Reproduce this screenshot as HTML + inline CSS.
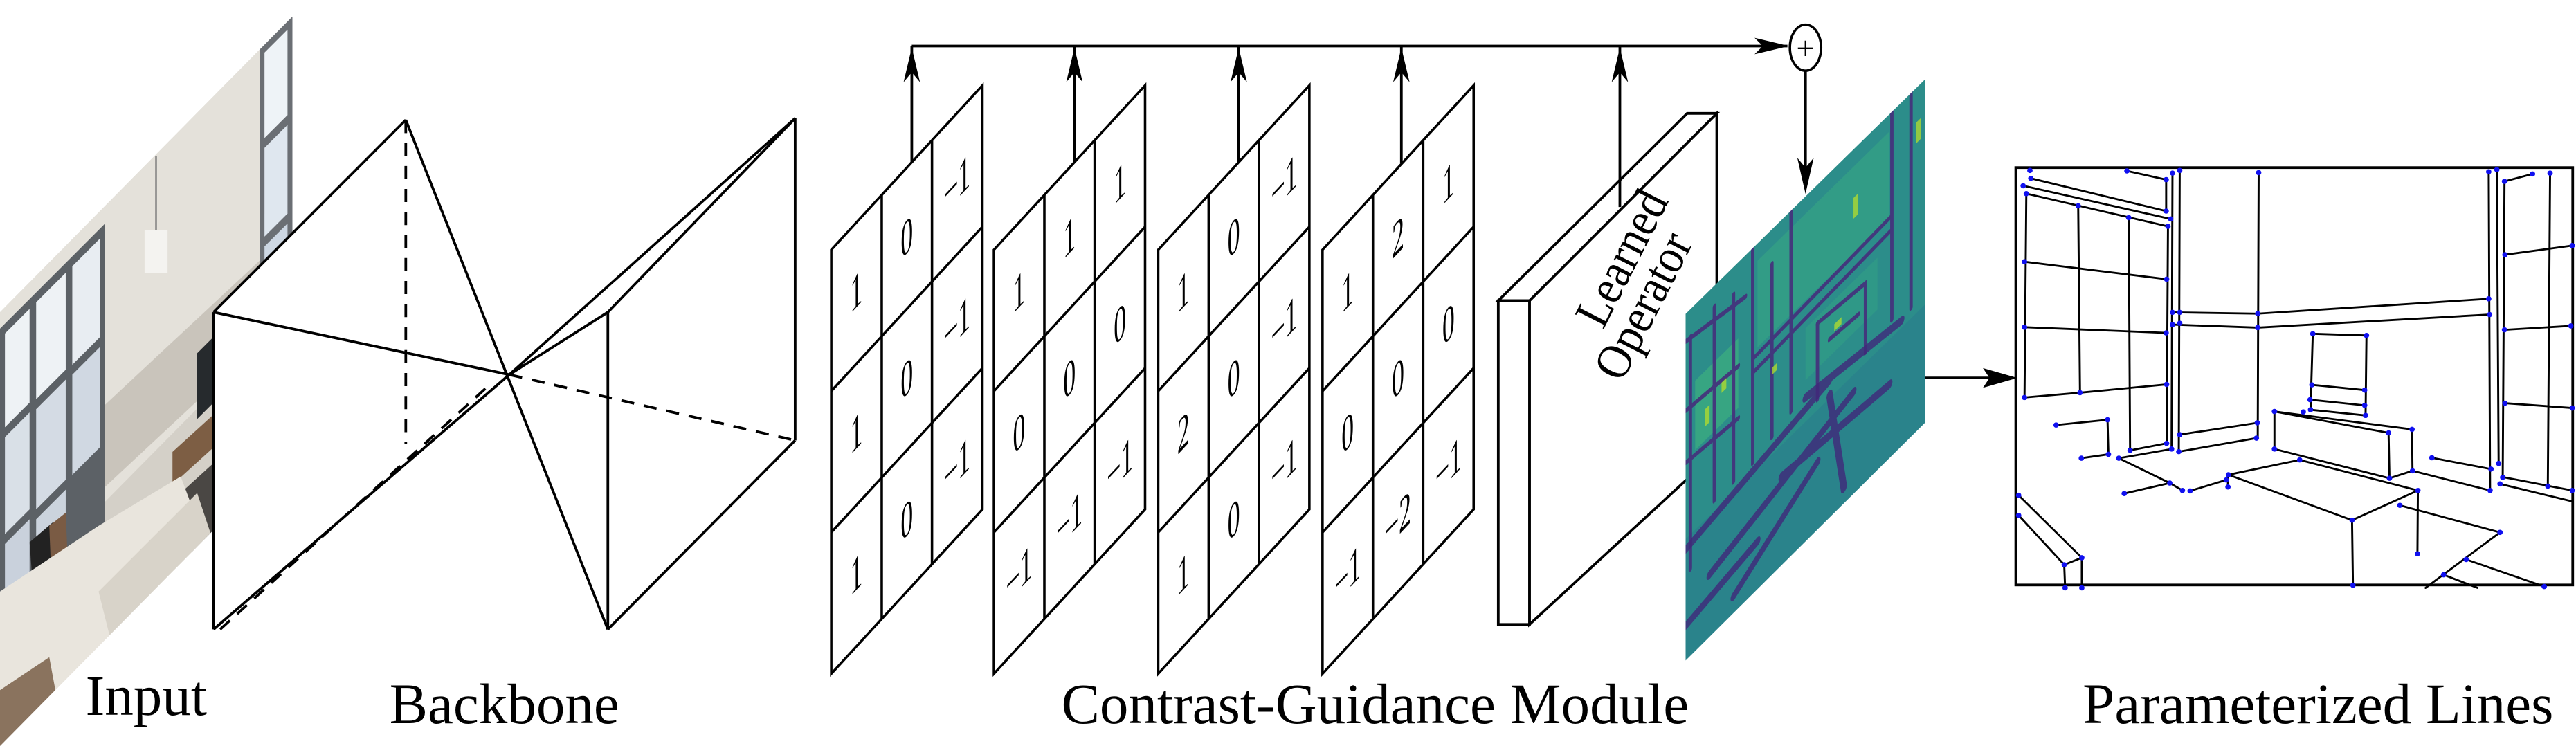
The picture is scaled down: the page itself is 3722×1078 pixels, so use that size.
<!DOCTYPE html>
<html><head><meta charset="utf-8"><style>
html,body{margin:0;padding:0;background:#fff;}
svg{display:block;}
text{font-family:"Liberation Serif",serif;}
</style></head><body>
<svg width="3722" height="1078" viewBox="0 0 1568 454" preserveAspectRatio="none" xmlns="http://www.w3.org/2000/svg">
<defs>
<clipPath id="cin"><polygon points="0,190 178,10 178,274 0,454"/></clipPath>
<clipPath id="cmap"><polygon points="1026,191 1172,48 1172,257 1026,402"/></clipPath>
</defs>

<!-- INPUT IMAGE -->
<g clip-path="url(#cin)">
<rect x="0" y="0" width="180" height="454" fill="#d4d0c8"/>
<polygon points="0,190 178,10 178,190 0,370" fill="#e4e1da"/>
<polygon points="60,250 178,140 178,190 60,300" fill="#c9c4bb"/>
<polygon points="158,30 178,10 178,230 158,250" fill="#6b6f74"/>
<polygon points="161,32 175,18 175,70 161,84" fill="#eef3f7"/>
<polygon points="161,90 175,76 175,130 161,144" fill="#dfe7ef"/>
<polygon points="161,150 175,136 175,190 161,204" fill="#cdd7e3"/>
<polygon points="0,200 64,136 64,320 0,384" fill="#5c6166"/>
<polygon points="3,203 18,188 18,245 3,260" fill="#eef2f5"/>
<polygon points="22,184 40,166 40,225 22,243" fill="#eef2f5"/>
<polygon points="44,162 61,145 61,205 44,222" fill="#e8edf2"/>
<polygon points="3,266 18,251 18,310 3,325" fill="#d9e0e7"/>
<polygon points="22,249 40,231 40,292 22,310" fill="#d4dbe4"/>
<polygon points="44,228 61,211 61,272 44,289" fill="#d0d8e2"/>
<polygon points="3,331 18,316 18,370 3,385" fill="#c9d1dc"/>
<polygon points="22,316 40,298 40,352 22,370" fill="#cbd3dd"/>
<rect x="88" y="140" width="14" height="26" fill="#f4f3f0"/>
<line x1="95" y1="95" x2="95" y2="140" stroke="#777" stroke-width="1"/>
<polygon points="120,215 130,205 130,245 120,255" fill="#262a2d"/>
<polygon points="105,275 160,225 160,245 105,295" fill="#7d5e44"/>
<polygon points="110,300 165,250 170,300 120,350" fill="#4a4744"/>
<polygon points="18,330 32,318 34,345 20,357" fill="#222"/>
<polygon points="30,320 40,312 42,360 32,370" fill="#7a5b44"/>
<polygon points="0,360 60,320 110,290 125,330 70,400 20,454 0,454" fill="#e9e5dd"/>
<polygon points="60,360 120,300 130,330 75,420" fill="#d8d3c9"/>
<polygon points="0,420 30,400 40,454 0,454" fill="#8a735e"/>
</g>

<!-- BACKBONE -->
<polygon points="130,190 247,73 247,270 130,383" fill="#fff"/>
<g stroke="#000" stroke-width="1.6" fill="none">
 <line x1="130" y1="190" x2="130" y2="383"/>
 <line x1="130" y1="190" x2="247" y2="73"/>
 <line x1="247" y1="73" x2="370" y2="383"/>
 <line x1="130" y1="190" x2="310" y2="228"/>
 <line x1="130" y1="383" x2="310" y2="228"/>
 <line x1="310" y1="228" x2="484" y2="72"/>
 <line x1="310" y1="228" x2="370" y2="190"/>
 <line x1="370" y1="190" x2="484" y2="72"/>
 <line x1="370" y1="190" x2="370" y2="383"/>
 <line x1="484" y1="72" x2="484" y2="268"/>
 <line x1="370" y1="383" x2="484" y2="268"/>
 <g stroke-dasharray="8,6">
  <line x1="247" y1="73" x2="247" y2="270"/>
  <line x1="134" y1="383" x2="296" y2="236"/>
  <line x1="310" y1="228" x2="484" y2="268"/>
 </g>
</g>

<!-- KERNELS -->
<g stroke="#000" stroke-width="1.5" fill="#fff">
 <polygon points="506,152 598,52 598,310 506,410"/>
 <polygon points="605,152 697,52 697,310 605,410"/>
 <polygon points="705,152 797,52 797,310 705,410"/>
 <polygon points="805,152 897,52 897,310 805,410"/>
</g>
<g stroke="#000" stroke-width="1.5" fill="none">
 <line x1="536.7" y1="118.7" x2="536.7" y2="376.7"/><line x1="567.3" y1="85.3" x2="567.3" y2="343.3"/>
 <line x1="506" y1="238" x2="598" y2="138"/><line x1="506" y1="324" x2="598" y2="224"/>
 <line x1="635.7" y1="118.7" x2="635.7" y2="376.7"/><line x1="666.3" y1="85.3" x2="666.3" y2="343.3"/>
 <line x1="605" y1="238" x2="697" y2="138"/><line x1="605" y1="324" x2="697" y2="224"/>
 <line x1="735.7" y1="118.7" x2="735.7" y2="376.7"/><line x1="766.3" y1="85.3" x2="766.3" y2="343.3"/>
 <line x1="705" y1="238" x2="797" y2="138"/><line x1="705" y1="324" x2="797" y2="224"/>
 <line x1="835.7" y1="118.7" x2="835.7" y2="376.7"/><line x1="866.3" y1="85.3" x2="866.3" y2="343.3"/>
 <line x1="805" y1="238" x2="897" y2="138"/><line x1="805" y1="324" x2="897" y2="224"/>
</g>
<g font-size="30" text-anchor="middle" fill="#000">
 <g transform="translate(506,0)">
  <text transform="translate(15.3,187) skewY(-47) scale(0.5,1)">1</text>
  <text transform="translate(46,154) skewY(-47) scale(0.5,1)">0</text>
  <text transform="translate(76.7,121) skewY(-47) scale(0.5,1)">−1</text>
  <text transform="translate(15.3,273) skewY(-47) scale(0.5,1)">1</text>
  <text transform="translate(46,240) skewY(-47) scale(0.5,1)">0</text>
  <text transform="translate(76.7,207) skewY(-47) scale(0.5,1)">−1</text>
  <text transform="translate(15.3,359) skewY(-47) scale(0.5,1)">1</text>
  <text transform="translate(46,326) skewY(-47) scale(0.5,1)">0</text>
  <text transform="translate(76.7,293) skewY(-47) scale(0.5,1)">−1</text>
 </g>
 <g transform="translate(605,0)">
  <text transform="translate(15.3,187) skewY(-47) scale(0.5,1)">1</text>
  <text transform="translate(46,154) skewY(-47) scale(0.5,1)">1</text>
  <text transform="translate(76.7,121) skewY(-47) scale(0.5,1)">1</text>
  <text transform="translate(15.3,273) skewY(-47) scale(0.5,1)">0</text>
  <text transform="translate(46,240) skewY(-47) scale(0.5,1)">0</text>
  <text transform="translate(76.7,207) skewY(-47) scale(0.5,1)">0</text>
  <text transform="translate(15.3,359) skewY(-47) scale(0.5,1)">−1</text>
  <text transform="translate(46,326) skewY(-47) scale(0.5,1)">−1</text>
  <text transform="translate(76.7,293) skewY(-47) scale(0.5,1)">−1</text>
 </g>
 <g transform="translate(705,0)">
  <text transform="translate(15.3,187) skewY(-47) scale(0.5,1)">1</text>
  <text transform="translate(46,154) skewY(-47) scale(0.5,1)">0</text>
  <text transform="translate(76.7,121) skewY(-47) scale(0.5,1)">−1</text>
  <text transform="translate(15.3,273) skewY(-47) scale(0.5,1)">2</text>
  <text transform="translate(46,240) skewY(-47) scale(0.5,1)">0</text>
  <text transform="translate(76.7,207) skewY(-47) scale(0.5,1)">−1</text>
  <text transform="translate(15.3,359) skewY(-47) scale(0.5,1)">1</text>
  <text transform="translate(46,326) skewY(-47) scale(0.5,1)">0</text>
  <text transform="translate(76.7,293) skewY(-47) scale(0.5,1)">−1</text>
 </g>
 <g transform="translate(805,0)">
  <text transform="translate(15.3,187) skewY(-47) scale(0.5,1)">1</text>
  <text transform="translate(46,154) skewY(-47) scale(0.5,1)">2</text>
  <text transform="translate(76.7,121) skewY(-47) scale(0.5,1)">1</text>
  <text transform="translate(15.3,273) skewY(-47) scale(0.5,1)">0</text>
  <text transform="translate(46,240) skewY(-47) scale(0.5,1)">0</text>
  <text transform="translate(76.7,207) skewY(-47) scale(0.5,1)">0</text>
  <text transform="translate(15.3,359) skewY(-47) scale(0.5,1)">−1</text>
  <text transform="translate(46,326) skewY(-47) scale(0.5,1)">−2</text>
  <text transform="translate(76.7,293) skewY(-47) scale(0.5,1)">−1</text>
 </g>
</g>

<!-- LEARNED OPERATOR -->
<g stroke="#000" stroke-width="1.6" fill="#fff">
 <polygon points="931,183 1045,69 1045,275 931,380"/>
 <polygon points="912,183 1027,69 1045,69 931,183"/>
 <rect x="912" y="183" width="19" height="197"/>
</g>
<g font-size="30" text-anchor="middle">
 <text transform="translate(987,157) rotate(-63) scale(0.9,1) translate(0,10)">Learned</text>
 <text transform="translate(1000,186) rotate(-63) scale(0.9,1) translate(0,10)">Operator</text>
</g>

<!-- ARROWS TOP -->
<g stroke="#000" stroke-width="1.6" fill="none">
 <line x1="555" y1="99" x2="555" y2="28"/>
 <line x1="654" y1="99" x2="654" y2="28"/>
 <line x1="754" y1="99" x2="754" y2="28"/>
 <line x1="853" y1="99" x2="853" y2="28"/>
 <line x1="986" y1="126" x2="986" y2="28"/>
 <line x1="555" y1="28" x2="1088" y2="28"/>
 <line x1="1099" y1="43" x2="1099" y2="110"/>
 <line x1="1172" y1="230" x2="1216" y2="230"/>
</g>
<ellipse cx="1099" cy="29" rx="9.5" ry="14" stroke="#000" stroke-width="1.5" fill="#fff"/>
<text x="1099" y="36" font-size="20" text-anchor="middle">+</text>
<g fill="#000">
 <polygon points="555,29 550,50 555,44 560,50"/>
 <polygon points="654,29 649,50 654,44 659,50"/>
 <polygon points="754,29 749,50 754,44 759,50"/>
 <polygon points="853,29 848,50 853,44 858,50"/>
 <polygon points="986,29 981,50 986,44 991,50"/>
 <polygon points="1089,28 1068,23 1073,28 1068,33"/>
 <polygon points="1099,118 1094,96 1099,102 1104,96"/>
 <polygon points="1228,230 1207,224 1211,230 1207,236"/>
</g>

<!-- FEATURE MAP -->
<g clip-path="url(#cmap)">
<polygon points="1026,191 1172,48 1172,257 1026,402" fill="#2c8d8a"/>
<g transform="matrix(1.46,-1.43,0,2.11,1026,191)" fill="none" stroke-linecap="round">
 <rect x="30" y="5" width="55" height="25" fill="#34a285" stroke="none" opacity="0.7"/>
 <rect x="4" y="22" width="18" height="20" fill="#3bab80" stroke="none" opacity="0.8"/>
 <rect x="50" y="38" width="30" height="15" fill="#2f9887" stroke="none"/>
 <rect x="0" y="65" width="100" height="35" fill="#2a7f8b" stroke="none" opacity="0.7"/>
 <g stroke="#452f7c" stroke-width="1.4" opacity="0.9">
  <line x1="2" y1="8" x2="2" y2="75"/><line x1="12" y1="6" x2="12" y2="62"/><line x1="20" y1="8" x2="20" y2="62"/>
  <line x1="0" y1="28" x2="22" y2="30"/><line x1="0" y1="43" x2="22" y2="45"/><line x1="0" y1="8" x2="25" y2="12"/>
  <line x1="28" y1="0" x2="28" y2="62"/><line x1="44" y1="0" x2="44" y2="58"/><line x1="36" y1="10" x2="36" y2="60"/>
  <line x1="28" y1="32" x2="85" y2="30"/><line x1="28" y1="36" x2="85" y2="34"/>
  <line x1="86" y1="0" x2="86" y2="60"/><line x1="94" y1="0" x2="94" y2="62"/>
  <line x1="55" y1="40" x2="75" y2="42"/><line x1="55" y1="40" x2="55" y2="62"/><line x1="75" y1="42" x2="75" y2="62"/>
  <line x1="60" y1="48" x2="72" y2="49"/>
 </g>
 <g stroke="#40297a" stroke-width="2.5" opacity="0.8">
  <line x1="0" y1="68" x2="60" y2="60"/><line x1="10" y1="82" x2="70" y2="70"/>
  <line x1="40" y1="74" x2="85" y2="78"/><line x1="50" y1="58" x2="90" y2="63"/>
  <line x1="0" y1="90" x2="30" y2="86"/><line x1="60" y1="64" x2="66" y2="95"/>
  <line x1="20" y1="95" x2="55" y2="80"/>
 </g>
 <g fill="#b5de2b" stroke="none" opacity="0.75">
  <rect x="8" y="33" width="2" height="5"/><rect x="15" y="30" width="2" height="3"/><rect x="70" y="14" width="2" height="6"/><rect x="36" y="40" width="2" height="2"/><rect x="96" y="10" width="2" height="6"/><rect x="62" y="45" width="3" height="2"/>
 </g>
</g>
</g>

<!-- PARAMETERIZED LINES -->
<rect x="1227" y="102" width="339" height="254" fill="#fff" stroke="#000" stroke-width="1.6"/>
<g transform="matrix(0.2746,0,0,0.2657,1137.3,42.1)">
<g stroke="#000" stroke-width="4.5" fill="none" stroke-linecap="round">
 <line x1="573" y1="233" x2="660" y2="253"/><line x1="660" y1="253" x2="660" y2="325"/>
 <line x1="360" y1="250" x2="660" y2="325"/>
 <line x1="343" y1="267" x2="670" y2="343"/>
 <line x1="350" y1="285" x2="664" y2="360"/>
 <line x1="350" y1="285" x2="346" y2="752"/>
 <line x1="465" y1="313" x2="469" y2="741"/>
 <line x1="577" y1="340" x2="580" y2="873"/>
 <line x1="346" y1="441" x2="661" y2="481"/>
 <line x1="346" y1="591" x2="660" y2="604"/>
 <polyline points="346,752 469,741 661,722"/>
 <line x1="664" y1="360" x2="661" y2="857"/>
 <line x1="580" y1="873" x2="661" y2="857"/>
 <line x1="555" y1="891" x2="672" y2="870"/>
 <line x1="674" y1="238" x2="672" y2="870"/>
 <line x1="690" y1="232" x2="688" y2="876"/>
 <polyline points="674,557 863,560 1375,526"/>
 <polyline points="674,585 863,592 1377,562"/>
 <line x1="865" y1="237" x2="863" y2="845"/>
 <line x1="690" y1="837" x2="862" y2="810"/>
 <line x1="688" y1="876" x2="860" y2="845"/>
 <line x1="1375" y1="235" x2="1378" y2="965"/>
 <line x1="1393" y1="230" x2="1397" y2="903"/>
 <line x1="1410" y1="257" x2="1406" y2="935"/>
 <line x1="1410" y1="257" x2="1472" y2="240"/>
 <line x1="1511" y1="238" x2="1506" y2="955"/>
 <line x1="1411" y1="425" x2="1560" y2="404"/>
 <line x1="1410" y1="597" x2="1557" y2="588"/>
 <line x1="1411" y1="765" x2="1560" y2="776"/>
 <line x1="1400" y1="950" x2="1560" y2="990"/>
 <line x1="1410" y1="935" x2="1560" y2="965"/>
 <polygon points="985,606 1104,610 1102,793 980,780"/>
 <line x1="983" y1="723" x2="1100" y2="735"/>
 <line x1="979" y1="757" x2="1100" y2="770"/>
 <line x1="900" y1="784" x2="1205" y2="825"/>
 <line x1="900" y1="784" x2="900" y2="870"/>
 <line x1="900" y1="784" x2="1153" y2="833"/>
 <line x1="1153" y1="833" x2="1155" y2="937"/>
 <line x1="1205" y1="825" x2="1206" y2="920"/>
 <line x1="900" y1="870" x2="1155" y2="937"/>
 <line x1="1155" y1="937" x2="1206" y2="920"/>
 <line x1="1249" y1="890" x2="1380" y2="916"/>
 <line x1="1206" y1="920" x2="1378" y2="965"/>
 <polyline points="798,929 1072,1033 1218,965"/>
 <line x1="798" y1="929" x2="956" y2="895"/>
 <line x1="956" y1="895" x2="1218" y2="965"/>
 <line x1="1218" y1="965" x2="1217" y2="1110"/>
 <line x1="1072" y1="1033" x2="1074" y2="1182"/>
 <line x1="1178" y1="999" x2="1400" y2="1061"/>
 <line x1="1400" y1="1061" x2="1235" y2="1188"/>
 <line x1="1325" y1="1123" x2="1498" y2="1185"/>
 <line x1="1275" y1="1158" x2="1350" y2="1188"/>
 <polyline points="416,815 530,803 532,882"/>
 <line x1="472" y1="891" x2="532" y2="882"/>
 <polyline points="555,891 668,948 696,965"/>
 <line x1="567" y1="972" x2="668" y2="948"/>
 <line x1="713" y1="966" x2="793" y2="941"/>
 <line x1="797" y1="929" x2="797" y2="957"/>
 <line x1="333" y1="976" x2="473" y2="1119"/>
 <line x1="333" y1="1022" x2="434" y2="1135"/>
 <line x1="434" y1="1135" x2="473" y2="1119"/>
 <line x1="434" y1="1135" x2="436" y2="1188"/>
 <line x1="473" y1="1119" x2="473" y2="1188"/>
</g>
<g fill="#1010f0">
 <circle cx="573" cy="233" r="6"/><circle cx="660" cy="253" r="6"/><circle cx="660" cy="325" r="6"/><circle cx="360" cy="250" r="6"/><circle cx="358" cy="232" r="6"/>
 <circle cx="343" cy="267" r="6"/><circle cx="670" cy="343" r="6"/><circle cx="350" cy="285" r="6"/><circle cx="664" cy="360" r="6"/>
 <circle cx="346" cy="752" r="6"/><circle cx="465" cy="313" r="6"/><circle cx="469" cy="741" r="6"/><circle cx="577" cy="340" r="6"/><circle cx="580" cy="873" r="6"/>
 <circle cx="346" cy="441" r="6"/><circle cx="661" cy="481" r="6"/><circle cx="346" cy="591" r="6"/><circle cx="660" cy="604" r="6"/><circle cx="661" cy="722" r="6"/>
 <circle cx="661" cy="857" r="6"/><circle cx="555" cy="891" r="6"/><circle cx="672" cy="870" r="6"/><circle cx="674" cy="238" r="6"/><circle cx="690" cy="232" r="6"/>
 <circle cx="688" cy="876" r="6"/><circle cx="674" cy="557" r="6"/><circle cx="690" cy="557" r="6"/><circle cx="863" cy="560" r="6"/><circle cx="1375" cy="526" r="6"/>
 <circle cx="674" cy="585" r="6"/><circle cx="690" cy="582" r="6"/><circle cx="863" cy="592" r="6"/><circle cx="1377" cy="562" r="6"/><circle cx="865" cy="237" r="6"/>
 <circle cx="690" cy="837" r="6"/><circle cx="862" cy="810" r="6"/><circle cx="860" cy="845" r="6"/><circle cx="1375" cy="235" r="6"/><circle cx="1393" cy="230" r="6"/>
 <circle cx="1378" cy="965" r="6"/><circle cx="1397" cy="903" r="6"/><circle cx="1410" cy="257" r="6"/><circle cx="1406" cy="935" r="6"/><circle cx="1472" cy="240" r="6"/>
 <circle cx="1511" cy="238" r="6"/><circle cx="1506" cy="955" r="6"/><circle cx="1411" cy="425" r="6"/><circle cx="1560" cy="404" r="6"/><circle cx="1410" cy="597" r="6"/>
 <circle cx="1557" cy="588" r="6"/><circle cx="1411" cy="765" r="6"/><circle cx="1560" cy="776" r="6"/><circle cx="1400" cy="950" r="6"/><circle cx="1560" cy="965" r="6"/>
 <circle cx="985" cy="606" r="6"/><circle cx="1104" cy="610" r="6"/><circle cx="1102" cy="793" r="6"/><circle cx="980" cy="780" r="6"/><circle cx="983" cy="723" r="6"/>
 <circle cx="1100" cy="735" r="6"/><circle cx="979" cy="757" r="6"/><circle cx="1100" cy="770" r="6"/><circle cx="900" cy="784" r="6"/><circle cx="964" cy="785" r="6"/>
 <circle cx="1205" cy="825" r="6"/><circle cx="900" cy="870" r="6"/><circle cx="1153" cy="833" r="6"/><circle cx="1155" cy="937" r="6"/><circle cx="1206" cy="920" r="6"/>
 <circle cx="1249" cy="890" r="6"/><circle cx="1380" cy="916" r="6"/><circle cx="798" cy="929" r="6"/><circle cx="1072" cy="1033" r="6"/><circle cx="1218" cy="965" r="6"/>
 <circle cx="956" cy="895" r="6"/><circle cx="1217" cy="1110" r="6"/><circle cx="1074" cy="1182" r="6"/><circle cx="1178" cy="999" r="6"/><circle cx="1400" cy="1061" r="6"/>
 <circle cx="1325" cy="1123" r="6"/><circle cx="1498" cy="1185" r="6"/><circle cx="1275" cy="1158" r="6"/><circle cx="416" cy="815" r="6"/><circle cx="530" cy="803" r="6"/>
 <circle cx="532" cy="882" r="6"/><circle cx="472" cy="891" r="6"/><circle cx="668" cy="948" r="6"/><circle cx="696" cy="965" r="6"/><circle cx="567" cy="972" r="6"/>
 <circle cx="713" cy="966" r="6"/><circle cx="793" cy="941" r="6"/><circle cx="797" cy="957" r="6"/><circle cx="333" cy="976" r="6"/><circle cx="333" cy="1022" r="6"/>
 <circle cx="473" cy="1119" r="6"/><circle cx="434" cy="1135" r="6"/><circle cx="436" cy="1188" r="6"/><circle cx="473" cy="1188" r="6"/>
</g>
</g>

<!-- LABELS -->
<g font-size="35" text-anchor="middle" fill="#000">
 <text x="89" y="435">Input</text>
 <text x="307" y="440">Backbone</text>
 <text x="837" y="440">Contrast-Guidance Module</text>
 <text x="1411" y="440">Parameterized Lines</text>
</g>
</svg>
</body></html>
